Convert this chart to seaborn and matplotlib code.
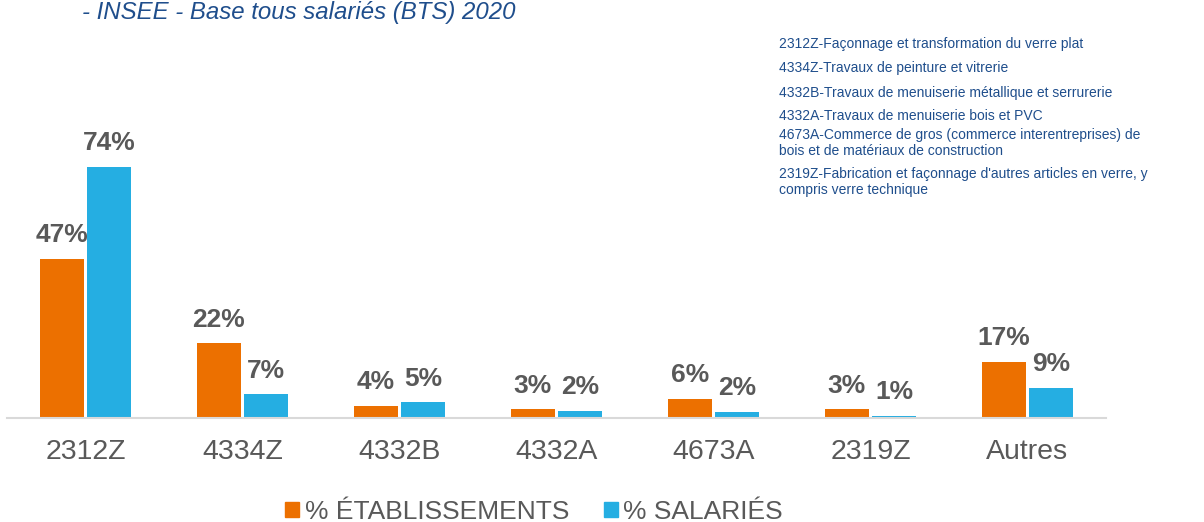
import matplotlib
matplotlib.use("Agg")
import matplotlib.pyplot as plt
import matplotlib.patches as mpatches
import seaborn as sns
import pandas as pd

categories = ["2312Z", "4334Z", "4332B", "4332A", "4673A", "2319Z", "Autres"]
etab = [47, 22, 3.6, 2.6, 5.6, 2.6, 16.6]
salaries = [74, 7, 4.6, 2.1, 1.8, 0.7, 8.9]
etab_labels = ["47%", "22%", "4%", "3%", "6%", "3%", "17%"]
sal_labels = ["74%", "7%", "5%", "2%", "2%", "1%", "9%"]
series = ["% ÉTABLISSEMENTS", "% SALARIÉS"]
title = "- INSEE - Base tous salariés (BTS) 2020"
notes = [
    "2312Z-Façonnage et transformation du verre plat",
    "4334Z-Travaux de peinture et vitrerie",
    "4332B-Travaux de menuiserie métallique et serrurerie",
    "4332A-Travaux de menuiserie bois et PVC",
    "4673A-Commerce de gros (commerce interentreprises) de\nbois et de matériaux de construction",
    "2319Z-Fabrication et façonnage d'autres articles en verre, y\ncompris verre technique",
]

ORANGE = "#EC7000"
BLUE = "#25AEE2"
GREY = "#595959"
NAVY = "#1F4E8C"

df = pd.DataFrame({
    "cat": categories * 2,
    "val": etab + salaries,
    "serie": [series[0]] * len(categories) + [series[1]] * len(categories),
})

sns.set_theme(style="white")
plt.rcParams["font.family"] = ["Liberation Sans", "DejaVu Sans"]

W, H = 1204, 522
fig = plt.figure(figsize=(W / 100, H / 100), dpi=100)
ax = fig.add_axes([7 / W, 104 / H, 1099 / W, 298 / H])

sns.barplot(data=df, x="cat", y="val", hue="serie", order=categories,
            hue_order=series, palette=[ORANGE, BLUE], width=0.605, gap=0.074,
            saturation=1, legend=False, ax=ax, edgecolor="none")

ax.set_xlim(-0.5, len(categories) - 0.5)
ax.set_ylim(0, 298 / 3.39)
for s in ["top", "right", "left"]:
    ax.spines[s].set_visible(False)
ax.spines["bottom"].set_color("#D9D9D9")
ax.spines["bottom"].set_linewidth(1.5)
ax.set_yticks([])
ax.set_xlabel("")
ax.set_ylabel("")
ax.tick_params(axis="x", length=0, pad=14.8, labelsize=20.5, labelcolor=GREY)

for cont, labs in zip(ax.containers, [etab_labels, sal_labels]):
    for bar, lab in zip(cont, labs):
        ax.annotate(lab, (bar.get_x() + bar.get_width() / 2, bar.get_height()),
                    xytext=(0, 12), textcoords="offset points",
                    ha="center", va="baseline", fontsize=19, fontweight="bold",
                    color=GREY)

fig.text(82 / W, 1 - 12 / H, title, fontsize=17.3, style="italic", color=NAVY,
         ha="left", va="center")

ys = [44, 68, 93, 116, 143, 182]
for y, t in zip(ys, notes):
    fig.text(779 / W, 1 - y / H, t, fontsize=10, color=NAVY, ha="left",
             va="center", linespacing=1.25)

handles = [mpatches.Patch(color=ORANGE, label=series[0]),
           mpatches.Patch(color=BLUE, label=series[1])]
leg = fig.legend(handles=handles, loc="center", bbox_to_anchor=(534 / W, 1 - 512 / H),
                 ncol=2, frameon=False, fontsize=19, handlelength=0.53,
                 handleheight=0.53, handletextpad=0.2, columnspacing=1.32,
                 borderpad=0, borderaxespad=0)
for t in leg.get_texts():
    t.set_color(GREY)

fig.savefig("out.png", dpi=100)
